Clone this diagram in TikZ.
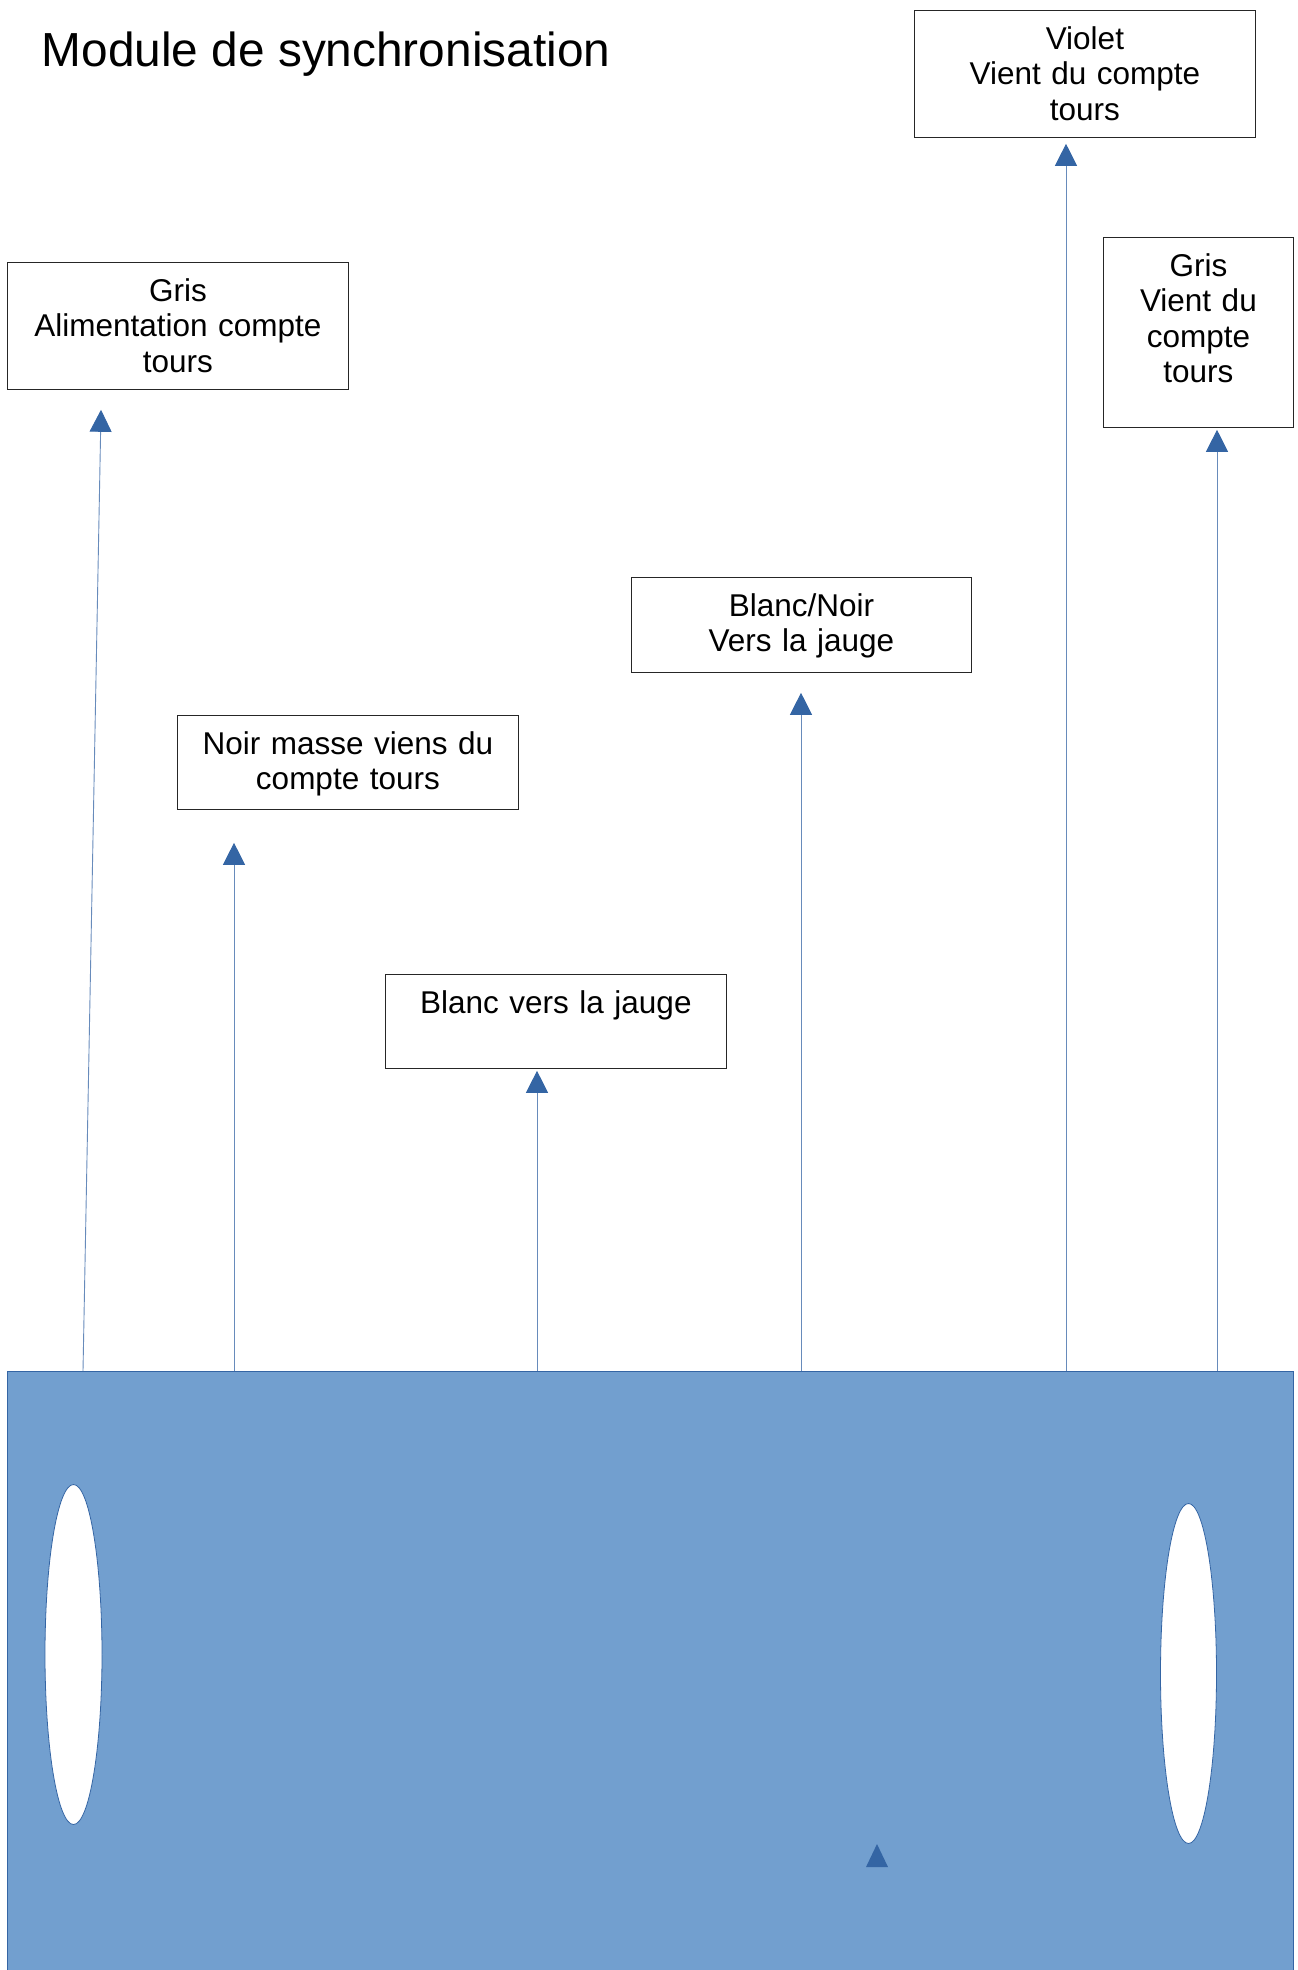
\documentclass[tikz,border=0pt]{standalone}
\usepackage{fontspec}
\setmainfont{Liberation Sans}
\usetikzlibrary{arrows.meta}
\definecolor{modfill}{HTML}{729FCF}
\definecolor{modline}{HTML}{3465A4}

\begin{document}
\begin{tikzpicture}[x=1pt,y=-1pt,
    tag/.style={draw=black!85, line width=0.8pt, inner sep=0pt, align=center,
      anchor=north west, text width=#1, text height=39pt,
      font=\fontsize{31.5}{35.5}\selectfont},
    wire/.style={draw=modline!75, line width=0.9pt,
      -{Triangle[width=22pt,length=22pt,color=modline]}},
    hole/.style={draw=modline, fill=white, line width=0.8pt}]
  \useasboundingbox (0,0) rectangle (1298,1970);
  \node[anchor=base west, inner sep=0pt, font=\fontsize{47.8}{57}\selectfont]
    (title) at (41.5,66.7) {Module de synchronisation};
  \node[tag=341pt, text depth=88pt] (grisA) at (7,262) {Gris\\Alimentation compte\\tours};
  \node[tag=341pt, text depth=55pt] (noir) at (177,715) {Noir masse viens du\\compte tours};
  \node[tag=341pt, text depth=55pt] (blanc) at (385,974) {Blanc vers la jauge};
  \node[tag=340pt, text depth=56pt] (blancnoir) at (631,577) {Blanc/Noir\\Vers la jauge};
  \node[tag=341pt, text depth=88pt] (violet) at (914,10) {Violet\\Vient du compte\\tours};
  \node[tag=190pt, text depth=151pt] (grisB) at (1103,237) {Gris\\Vient du\\compte\\tours};
  \node[draw=modline, fill=modfill, line width=0.8pt, inner sep=0pt, anchor=north west,
    minimum width=1286pt, minimum height=610pt] (module) at (7,1371) {};
  \draw[hole] (73.5,1654.5) ellipse [x radius=28.5pt, y radius=170pt];
  \draw[hole] (1188.5,1673.5) ellipse [x radius=28pt, y radius=170pt];
  \fill[modline] (866,1867) -- (877,1844) -- (888,1867) -- cycle;
  \coordinate (w1) at ([xshift=76pt]module.north west);
  \coordinate (w2) at ([xshift=227pt]module.north west);
  \coordinate (w3) at ([xshift=530pt]module.north west);
  \coordinate (w4) at ([xshift=794pt]module.north west);
  \coordinate (w5) at ([xshift=1059pt]module.north west);
  \coordinate (w6) at ([xshift=1210pt]module.north west);
  \draw[wire, shorten >=20pt] (w1) -- ([xshift=-76.5pt]grisA.south);
  \draw[wire, shorten >=33pt] (w2) -- (w2 |- noir.south);
  \draw[wire, shorten >=2pt] (w3) -- (w3 |- blanc.south);
  \draw[wire, shorten >=20pt] (w4) -- (w4 |- blancnoir.south);
  \draw[wire, shorten >=6pt] (w5) -- (w5 |- violet.south);
  \draw[wire, shorten >=2pt] (w6) -- (w6 |- grisB.south);
\end{tikzpicture}
\end{document}
